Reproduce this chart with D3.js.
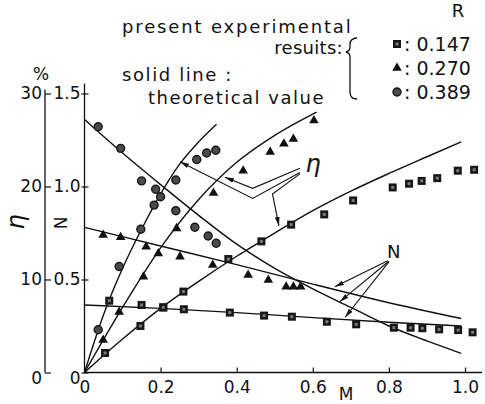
<!DOCTYPE html>
<html>
<head>
<meta charset="utf-8">
<script src="https://cdn.jsdelivr.net/npm/d3@7"></script>
<style>
  html, body { margin: 0; padding: 0; background: #fff; }
  svg { display: block; }
  text { font-family: "DejaVu Sans", sans-serif; fill: #111; }
</style>
</head>
<body>
<svg id="chart" width="485" height="404"></svg>
<script>
// ---- measured data (M on x; efficiency eta in %, N on the right scale) ----
// R = 0.147 (squares)
const etaSqM = [0.054, 0.147, 0.207, 0.26, 0.378, 0.465, 0.543, 0.63, 0.706, 0.81, 0.853, 0.886, 0.927, 0.981, 1.024];
const etaSq  = [2.1, 5.0, 7.0, 8.7, 12.2, 14.1, 15.9, 17.0, 18.5, 19.9, 20.3, 20.6, 20.9, 21.7, 21.8];
const nSqM   = [0.065, 0.15, 0.207, 0.261, 0.382, 0.472, 0.545, 0.637, 0.714, 0.813, 0.857, 0.888, 0.932, 0.982, 1.02];
const nSq    = [0.386, 0.363, 0.35, 0.34, 0.322, 0.306, 0.30, 0.273, 0.259, 0.241, 0.241, 0.238, 0.232, 0.228, 0.216];
// R = 0.270 (triangles)
const etaTriM = [0.049, 0.091, 0.155, 0.194, 0.242, 0.339, 0.417, 0.488, 0.524, 0.549, 0.603];
const etaTri  = [3.5, 6.5, 10.3, 12.8, 15.5, 19.3, 21.7, 23.7, 24.6, 25.1, 27.1];
const nTriM   = [0.049, 0.095, 0.162, 0.251, 0.337, 0.43, 0.483, 0.53, 0.549, 0.568];
const nTri    = [0.739, 0.727, 0.676, 0.623, 0.578, 0.524, 0.497, 0.461, 0.461, 0.461];
// R = 0.389 (circles)
const etaCirM = [0.036, 0.091, 0.148, 0.183, 0.2, 0.24, 0.295, 0.321, 0.345];
const etaCir  = [4.6, 11.4, 15.4, 18.0, 18.9, 20.7, 22.9, 23.6, 23.9];
const nCirM   = [0.036, 0.095, 0.15, 0.187, 0.24, 0.29, 0.325, 0.346];
const nCir    = [1.321, 1.205, 1.03, 0.985, 0.87, 0.781, 0.734, 0.695];

// ---- theoretical values (solid lines) ----
const thEtaSqM  = [0, 0.1, 0.2, 0.3, 0.4, 0.5, 0.6, 0.7, 0.8, 0.9, 0.99];
const thEtaSq   = [0, 3.6, 6.9, 9.8, 12.5, 15.0, 17.4, 19.5, 21.4, 23.2, 24.8];
const thEtaTriM = [0, 0.1, 0.2, 0.3, 0.4, 0.5, 0.61];
const thEtaTri  = [0, 7.0, 13.4, 18.6, 22.6, 25.5, 28.0];
const thEtaCirM = [0, 0.05, 0.1, 0.15, 0.2, 0.25, 0.3, 0.347];
const thEtaCir  = [0, 6.2, 11.2, 15.4, 19.2, 22.4, 24.8, 26.7];
const thNSqM    = [0, 0.2, 0.4, 0.6, 0.8, 0.99];
const thNSq     = [0.363, 0.345, 0.322, 0.295, 0.27, 0.25];
const thNTriM   = [0, 0.2, 0.4, 0.6, 0.8, 0.99];
const thNTri    = [0.78, 0.68, 0.58, 0.475, 0.375, 0.29];
const thNCirM   = [0, 0.1, 0.2, 0.3, 0.4, 0.5, 0.6, 0.7, 0.8, 0.9, 0.99];
const thNCir    = [1.36, 1.18, 1.01, 0.845, 0.69, 0.56, 0.45, 0.35, 0.25, 0.17, 0.103];

// ---- ticks and legend ----
const xTicks = [0, 0.2, 0.4, 0.6, 0.8, 1.0];
const xTickLabels = ["0", "0.2", "0.4", "0.6", "0.8", "1.0"];
const etaTicks = [0, 10, 20, 30];
const nTicks = [0, 0.5, 1.0, 1.5];
const nTickLabels = ["0", "0.5", "1.0", "1.5"];
const legendR = ["0.147", "0.270", "0.389"];
const legendShapes = ["square", "triangle", "circle"];

const svg = d3.select("#chart");

const x = d3.scaleLinear().domain([0, 1]).range([84.5, 465]);
const yN = d3.scaleLinear().domain([0, 1.5]).range([372.5, 93.5]);
const yEta = d3.scaleLinear().domain([0, 30]).range([372.5, 93.5]);

// arrowhead
svg.append("defs").append("marker")
  .attr("id", "arr").attr("viewBox", "0 0 9 6").attr("refX", 9).attr("refY", 3)
  .attr("markerWidth", 9).attr("markerHeight", 6).attr("markerUnits", "userSpaceOnUse")
  .attr("orient", "auto")
  .append("path").attr("d", "M0,0.6L9,3L0,5.4Z").attr("fill", "#111");

// ---- axes ----
const axEta = d3.axisLeft(yEta).tickValues(etaTicks).tickSizeInner(-6).tickSizeOuter(0).tickPadding(3);
const gEta = svg.append("g").attr("transform", "translate(45,0)").call(axEta);
const axN = d3.axisLeft(yN).tickValues(nTicks).tickSizeInner(-4).tickSizeOuter(0).tickPadding(4)
  .tickFormat((d, i) => nTickLabels[i]);
const gN = svg.append("g").attr("transform", `translate(${x(0)},0)`).call(axN);
gN.selectAll(".tick line").attr("x1", -3);
const axX = d3.axisBottom(x).tickValues(xTicks).tickSizeInner(-5).tickSizeOuter(0).tickPadding(8)
  .tickFormat((d, i) => xTickLabels[i]);
const gX = svg.append("g").attr("transform", `translate(0,${yN(0)})`).call(axX);

[gEta, gN, gX].forEach(g => {
  g.select(".domain").remove();
  g.selectAll(".tick line").attr("stroke", "#111").attr("stroke-width", 1.2);
  g.selectAll(".tick text").attr("font-size", 17).attr("fill", "#111")
    .attr("font-family", "DejaVu Sans, sans-serif");
});
gX.selectAll(".tick").filter(d => d === 0).select("line").remove();
gEta.selectAll(".tick text").filter(d => d === 0).attr("dy", "0.62em");
gN.selectAll(".tick text").filter(d => d === 0).attr("dy", "0.62em");

// axis lines
svg.append("line").attr("x1", 45).attr("x2", 45).attr("y1", yEta(30) - 4).attr("y2", yEta(0))
  .attr("stroke", "#111").attr("stroke-width", 1.3);
svg.append("line").attr("x1", x(0)).attr("x2", x(0)).attr("y1", yN(1.5) - 10).attr("y2", yN(0))
  .attr("stroke", "#111").attr("stroke-width", 1.3);
svg.append("line").attr("x1", x(0)).attr("x2", 482).attr("y1", yN(0)).attr("y2", yN(0))
  .attr("stroke", "#111").attr("stroke-width", 1.3);

// axis titles
svg.append("text").attr("x", 41).attr("y", 80).attr("text-anchor", "middle")
  .attr("font-size", 17).text("%");
svg.append("text").attr("transform", "translate(24,222) rotate(-90)").attr("text-anchor", "middle")
  .attr("font-size", 24).attr("font-family", "DejaVu Serif, serif").attr("font-style", "italic").text("η");
svg.append("text").attr("transform", "translate(67,223) rotate(-90)").attr("text-anchor", "middle")
  .attr("font-size", 17).text("N");
svg.append("text").attr("x", 346).attr("y", 400).attr("text-anchor", "middle")
  .attr("font-size", 17).text("M");

// ---- theoretical curves ----
const lineEta = d3.line().x(d => x(d[0])).y(d => yEta(d[1])).curve(d3.curveMonotoneX);
const lineN = d3.line().x(d => x(d[0])).y(d => yN(d[1])).curve(d3.curveMonotoneX);
const zip = (a, b) => a.map((v, i) => [v, b[i]]);
const gLines = svg.append("g").attr("fill", "none").attr("stroke", "#111").attr("stroke-width", 1.4);
[[thEtaSqM, thEtaSq], [thEtaTriM, thEtaTri], [thEtaCirM, thEtaCir]].forEach(([m, v]) =>
  gLines.append("path").attr("d", lineEta(zip(m, v))));
[[thNSqM, thNSq], [thNTriM, thNTri], [thNCirM, thNCir]].forEach(([m, v]) =>
  gLines.append("path").attr("d", lineN(zip(m, v))));

// ---- markers ----
function drawMarker(g, shape, cx, cy) {
  if (shape === "square") {
    g.append("rect").attr("x", cx - 4).attr("y", cy - 4).attr("width", 8).attr("height", 8)
      .attr("fill", "#161616");
    g.append("rect").attr("x", cx - 1.5).attr("y", cy - 1.5).attr("width", 3).attr("height", 3)
      .attr("fill", "#7a7a7a");
  } else if (shape === "triangle") {
    g.append("path").attr("transform", `translate(${cx},${cy})`)
      .attr("d", d3.symbol().type(d3.symbolTriangle).size(40)()).attr("fill", "#111");
  } else {
    g.append("circle").attr("cx", cx).attr("cy", cy).attr("r", 4)
      .attr("fill", "#4a4a4a").attr("stroke", "#161616").attr("stroke-width", 1.4);
  }
}
const gPts = svg.append("g");
[["square", etaSqM, etaSq], ["triangle", etaTriM, etaTri], ["circle", etaCirM, etaCir]]
  .forEach(([s, m, v]) => m.forEach((mm, i) => drawMarker(gPts, s, x(mm), yEta(v[i]))));
[["square", nSqM, nSq], ["triangle", nTriM, nTri], ["circle", nCirM, nCir]]
  .forEach(([s, m, v]) => m.forEach((mm, i) => drawMarker(gPts, s, x(mm), yN(v[i]))));

// ---- leader lines for the curve labels (points in M / N units) ----
const gAnn = svg.append("g").attr("fill", "none").attr("stroke", "#111").attr("stroke-width", 1.1);
const lineAnn = d3.line().x(d => x(d[0])).y(d => yN(d[1]));
const etaLeaders = [
  [[0.566, 1.098], [0.442, 0.990], [0.369, 1.050]],
  [[0.566, 1.075], [0.442, 0.936], [0.251, 1.133]],
  [[0.566, 1.068], [0.494, 0.960], [0.511, 0.788]]
];
etaLeaders.forEach(p => gAnn.append("path").attr("d", lineAnn(p)).attr("marker-end", "url(#arr)"));
const nLeaders = [
  [[0.797, 0.601], [0.658, 0.461]],
  [[0.799, 0.597], [0.671, 0.381]],
  [[0.801, 0.597], [0.685, 0.297]]
];
nLeaders.forEach(p => gAnn.append("path").attr("d", lineAnn(p)).attr("marker-end", "url(#arr)"));
svg.append("text").attr("x", x(0.601)).attr("y", yN(1.116)).attr("text-anchor", "middle")
  .attr("dy", "0.3em").attr("font-size", 24).attr("font-family", "DejaVu Serif, serif")
  .attr("font-style", "italic").text("η");
svg.append("text").attr("x", x(0.813)).attr("y", yN(0.648)).attr("text-anchor", "middle")
  .attr("dy", "0.35em").attr("font-size", 18).text("N");

// ---- notes and legend ----
const note = svg.append("g").attr("font-size", 18);
note.append("text").attr("x", 122).attr("y", 33).attr("letter-spacing", 1.85).text("present experimental");
note.append("text").attr("x", 343).attr("y", 54).attr("text-anchor", "end").attr("letter-spacing", 0.3).text("resuits:");
note.append("text").attr("x", 122).attr("y", 81).attr("letter-spacing", 1.6).text("solid line :");
note.append("text").attr("x", 148).attr("y", 104).attr("letter-spacing", 1.5).text("theoretical value");

svg.append("path")
  .attr("d", "M357,38 Q350,38 350,45 L350,47 Q350,51 346,52 Q350,53 350,57 L350,92 Q350,99 357,99")
  .attr("fill", "none").attr("stroke", "#111").attr("stroke-width", 1.3);
svg.append("text").attr("x", 458).attr("y", 17).attr("text-anchor", "middle").attr("font-size", 18).text("R");
const gLeg = svg.append("g");
legendR.forEach((r, i) => {
  const cy = 44 + i * 24;
  drawMarker(gLeg, legendShapes[i], 397, cy);
  gLeg.append("text").attr("x", 404).attr("y", cy + 7).attr("font-size", 19).text(": " + r);
});
</script>
</body>
</html>
